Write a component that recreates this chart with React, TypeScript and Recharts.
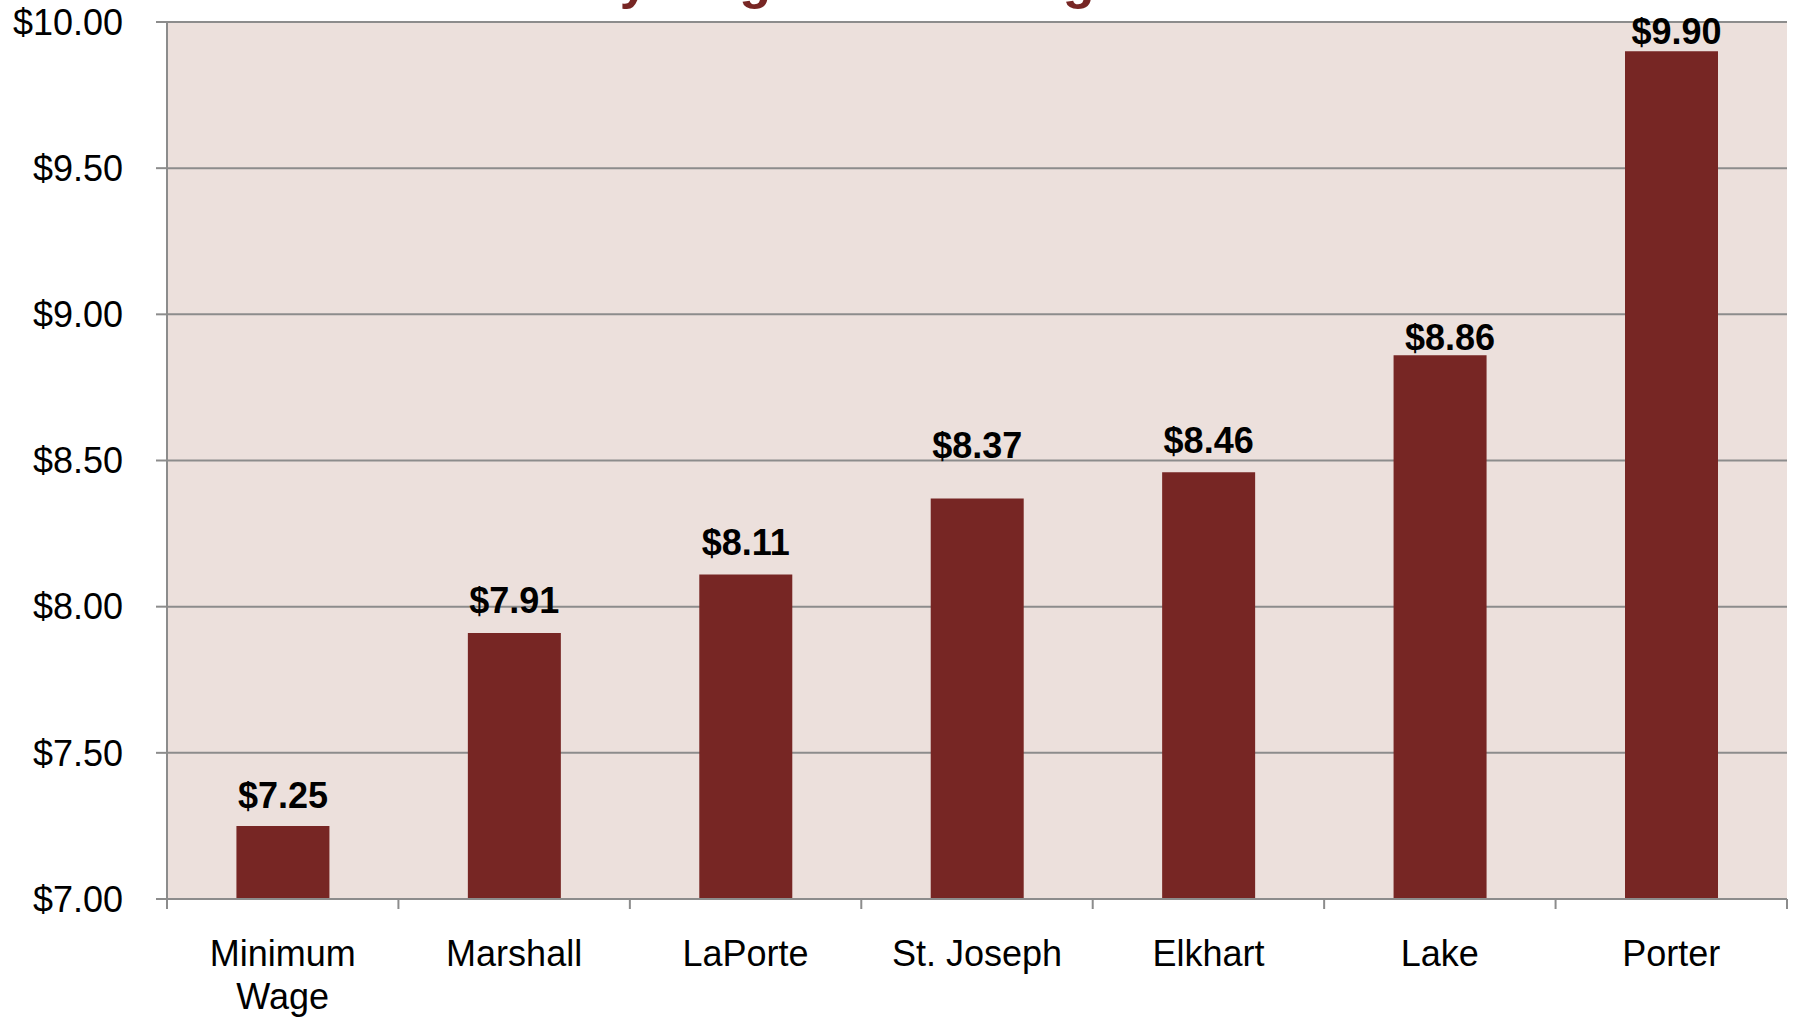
import React from 'react';
import { BarChart, Bar, XAxis, YAxis, CartesianGrid, LabelList } from 'recharts';

// ---- data ----
const categories = ['Minimum Wage', 'Marshall', 'LaPorte', 'St. Joseph', 'Elkhart', 'Lake', 'Porter'];
const wages = [7.25, 7.91, 8.11, 8.37, 8.46, 8.86, 9.9];
const yTicks = [7, 7.5, 8, 8.5, 9, 9.5, 10];
const titleText = 'Hourly Wage for a Living';

// ---- label styling (vertical gap above bar, horizontal nudge) ----
const labelGap = [18, 20, 20, 41, 19, 5, 7];
const labelShift = [0, 0, 0, 0, 0, 10, 5];

const data = categories.map((name, i) => ({ name, wage: wages[i] }));

const FONT = '"Liberation Sans", Arial, sans-serif';
const AXIS = '#8c8c8c';
const BAR = '#772624';
const PLOT_BG = '#ECE0DC';
const W = 1794;
const H = 1017;
const X_TICK_SIZE = 10;
const X_TICK_MARGIN = 31;
const Y_AXIS_W = 167;
const MARGIN = { top: 22, right: 7, bottom: 0, left: 0 };
const PLOT_W = W - Y_AXIS_W - MARGIN.right;
const MAX_CHARS_PER_LINE = 10;

const money = (v: number) => `$${v.toFixed(2)}`;

function wrapLabel(s: string): string[] {
  if (s.length <= MAX_CHARS_PER_LINE) return [s];
  const words = s.split(' ');
  const lines: string[] = [];
  let cur = '';
  words.forEach((w) => {
    const next = cur ? `${cur} ${w}` : w;
    if (next.length > MAX_CHARS_PER_LINE && cur) {
      lines.push(cur);
      cur = w;
    } else {
      cur = next;
    }
  });
  if (cur) lines.push(cur);
  return lines;
}

function CategoryTick(props: any) {
  const { x, y, payload, index } = props;
  const n = categories.length;
  let band = PLOT_W / n;
  if (props.width && props.width > 100) band = props.width / n;
  const half = band / 2;
  const axisY = y - X_TICK_SIZE - X_TICK_MARGIN;
  const lines = wrapLabel(String(payload.value));
  return (
    <g>
      <line x1={x - half} x2={x - half} y1={axisY} y2={axisY + X_TICK_SIZE} stroke={AXIS} strokeWidth={2} />
      {index === n - 1 && (
        <line x1={x + half} x2={x + half} y1={axisY} y2={axisY + X_TICK_SIZE} stroke={AXIS} strokeWidth={2} />
      )}
      <text x={x} y={y + 26} textAnchor="middle" fill="#000" fontSize={36} fontFamily={FONT}>
        {lines.map((ln, i) => (
          <tspan key={i} x={x} dy={i === 0 ? 0 : 43}>
            {ln}
          </tspan>
        ))}
      </text>
    </g>
  );
}

function ValueLabel(props: any) {
  const vb = props.viewBox && props.viewBox.width !== undefined ? props.viewBox : props;
  const x = Number(vb.x);
  const y = Number(vb.y);
  const w = Number(vb.width);
  let idx = props.index;
  if (idx === undefined || idx === null) idx = wages.indexOf(Number(props.value));
  const gap = labelGap[idx] ?? 18;
  const dx = labelShift[idx] ?? 0;
  return (
    <text
      x={x + w / 2 + dx}
      y={y - gap}
      textAnchor="middle"
      fill="#000"
      fontSize={36}
      fontWeight={700}
      fontFamily={FONT}
    >
      {money(Number(props.value))}
    </text>
  );
}

export default function App() {
  return (
    <div style={{ position: 'absolute', left: 0, top: 0, width: W, height: H, overflow: 'hidden', background: '#fff' }}>
      <div
        style={{
          position: 'absolute',
          left: 484,
          top: -46,
          fontFamily: FONT,
          fontWeight: 700,
          fontSize: 52,
          lineHeight: '52px',
          color: BAR,
          whiteSpace: 'nowrap',
        }}
      >
        {titleText}
      </div>
      <BarChart width={W} height={H} data={data} margin={MARGIN} barCategoryGap="30%">
        <CartesianGrid vertical={false} fill={PLOT_BG} fillOpacity={1} stroke={AXIS} strokeWidth={2} />
        <XAxis
          dataKey="name"
          height={H - MARGIN.top - 877}
          axisLine={{ stroke: AXIS, strokeWidth: 2 }}
          tickLine={false}
          tickSize={X_TICK_SIZE}
          tickMargin={X_TICK_MARGIN}
          tick={<CategoryTick />}
          interval={0}
        />
        <YAxis
          type="number"
          domain={[7, 10]}
          ticks={yTicks}
          width={Y_AXIS_W}
          interval={0}
          tickFormatter={money}
          axisLine={{ stroke: AXIS, strokeWidth: 2 }}
          tickLine={{ stroke: AXIS, strokeWidth: 2 }}
          tickSize={11}
          tickMargin={33}
          tick={{ fill: '#000', fontSize: 36, fontFamily: FONT }}
        />
        <Bar dataKey="wage" fill={BAR} isAnimationActive={false}>
          <LabelList dataKey="wage" content={<ValueLabel />} />
        </Bar>
      </BarChart>
    </div>
  );
}
